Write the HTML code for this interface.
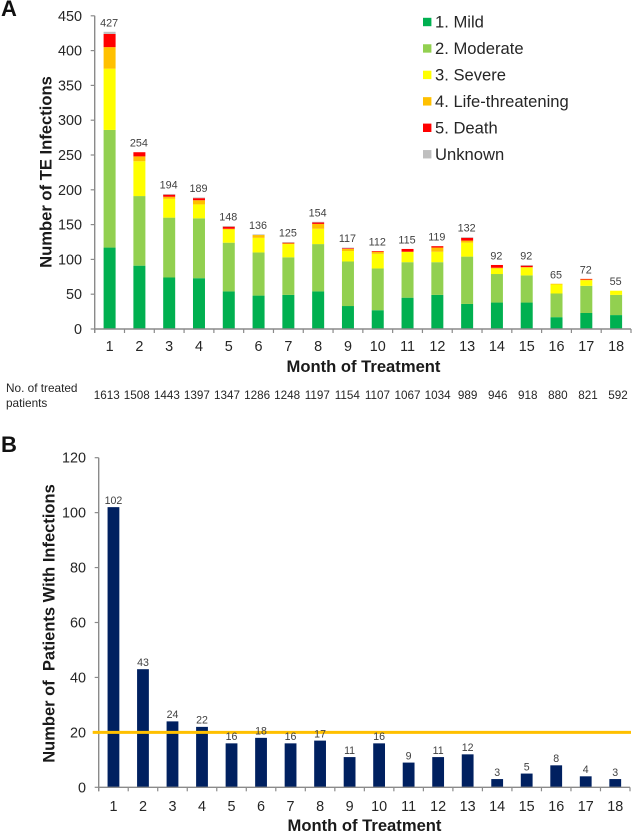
<!DOCTYPE html>
<html>
<head>
<meta charset="utf-8">
<title>TE Infections by Month of Treatment</title>
<style>
html,body{margin:0;padding:0;background:#fff;width:633px;height:833px;overflow:hidden}
svg{display:block;font-family:"Liberation Sans",sans-serif}
</style>
</head>
<body>
<svg id="fig" width="633" height="833" viewBox="0 0 633 833" xmlns="http://www.w3.org/2000/svg">
  <text x="1" y="16" font-size="22" font-weight="bold" fill="#111">A</text>
  <text x="1" y="452" font-size="22" font-weight="bold" fill="#111">B</text>
  <text transform="translate(51.5,172) rotate(-90)" text-anchor="middle" font-size="16.6" font-weight="bold" fill="#1a1a1a">Number of TE Infections</text>
  <text x="363.5" y="372" text-anchor="middle" font-size="16.6" font-weight="bold" fill="#1a1a1a">Month of Treatment</text>
  <text x="6" y="392" font-size="11.8" fill="#262626">No. of treated</text>
  <text x="6" y="407" font-size="11.8" fill="#262626">patients</text>
  <text transform="translate(54.5,623.5) rotate(-90)" text-anchor="middle" font-size="16.5" font-weight="bold" fill="#1a1a1a" xml:space="preserve">Number of  Patients With Infections</text>
  <text x="364.5" y="831" text-anchor="middle" font-size="16.6" font-weight="bold" fill="#1a1a1a">Month of Treatment</text>
  <g id="chartA"></g>
  <g id="legend"></g>
  <g id="counts"></g>
  <g id="chartB"></g>
</svg>
<script>
const months = [1,2,3,4,5,6,7,8,9,10,11,12,13,14,15,16,17,18];
const mild = [117,91,74,73,54,48,49,54,33,27,45,49,36,38,38,17,23,20];
const moderate = [169,100,86,86,70,62,54,68,64,60,51,47,68,41,39,34,39,29];
const severe = [88,50,27,20,19,21,19,22,15,21,15,15,20,8,11,13,8,6];
const lifeThreatening = [31,7,3,6,1,4,1,7,3,3,0,6,3,1,1,1,1,0];
const death = [19,6,3,3,3,0,1,2,1,1,4,2,4,4,2,0,1,0];
const unknown = [3,0,1,1,1,1,1,1,1,0,0,0,1,0,1,0,0,0];
const totals = [427,254,194,189,148,136,125,154,117,112,115,119,132,92,92,65,72,55];
const treatedPatients = [1613,1508,1443,1397,1347,1286,1248,1197,1154,1107,1067,1034,989,946,918,880,821,592];
const patientsWithInfections = [102,43,24,22,16,18,16,17,11,16,9,11,12,3,5,8,4,3];
const ticksA = [0,50,100,150,200,250,300,350,400,450];
const ticksB = [0,20,40,60,80,100,120];
const thresholdB = [20];
const severityNames = ['1. Mild','2. Moderate','3. Severe','4. Life-threatening','5. Death','Unknown'];
const severityKeys = ['mild','moderate','severe','life-threatening','death','unknown'];

const severitySeries = [mild,moderate,severe,lifeThreatening,death,unknown];
const severityColors = ['#00b050','#92d050','#ffff00','#ffc000','#ff0000','#bfbfbf'];
const NS = 'http://www.w3.org/2000/svg';
const AXIS = '#8a8a8a';

function mk(parent, tag, attrs, text){
  const el = document.createElementNS(NS, tag);
  for (const k in attrs) el.setAttribute(k, attrs[k]);
  if (text !== undefined) el.textContent = text;
  parent.appendChild(el);
  return el;
}

// Panel A scales
const ax0 = 94.7, ax1 = 631, ay0 = 329, ayMax = 15.8, aMax = 450;
const aStep = (ax1 - ax0) / months.length;
const ax = i => ax0 + aStep * (i + 0.5);
const ay = v => ay0 - (ay0 - ayMax) * v / aMax;

const gA = document.getElementById('chartA');
months.forEach((m, i) => {
  let cum = 0;
  severitySeries.forEach((s, k) => {
    const v = s[i];
    if (v <= 0) { return; }
    const r = mk(gA, 'rect', {x: ax(i) - 6, y: ay(cum + v), width: 12, height: ay(cum) - ay(cum + v), fill: severityColors[k]});
    
    
    cum += v;
  });
  const t = mk(gA, 'text', {x: ax(i) - 0.5, y: ay(totals[i]) - 5.5, 'text-anchor': 'middle', 'font-size': 10.8, fill: '#404040'}, totals[i]);
  
  
  const xl = mk(gA, 'text', {x: ax(i), y: 351, 'text-anchor': 'middle', 'font-size': 14.4, fill: '#262626'}, m);
  
  
});
const axisAY = mk(gA, 'line', {x1: ax0, x2: ax0, y1: ay(aMax), y2: ay0 + 4, stroke: AXIS, 'stroke-width': 1.4});


const axisAX = mk(gA, 'line', {x1: ax0, x2: ax1, y1: ay0, y2: ay0, stroke: AXIS, 'stroke-width': 1.4});


for (let i = 0; i <= months.length; i++) {
  const tk = mk(gA, 'line', {x1: ax0 + aStep * i, x2: ax0 + aStep * i, y1: ay0, y2: ay0 + 4, stroke: AXIS, 'stroke-width': 1.2});
  
  
}
ticksA.forEach(v => {
  const tk = mk(gA, 'line', {x1: ax0 - 4, x2: ax0, y1: ay(v), y2: ay(v), stroke: AXIS, 'stroke-width': 1.2});
  
  
  const l = mk(gA, 'text', {x: 82, y: ay(v) + 5, 'text-anchor': 'end', 'font-size': 14.4, fill: '#262626'}, v);
  
  
});

// Legend
const gL = document.getElementById('legend');
severityNames.forEach((n, k) => {
  const cy = 22 + k * 26.45;
  const sw = mk(gL, 'rect', {x: 423, y: cy - 4.2, width: 8.4, height: 8.4, fill: severityColors[k]});
  
  
  const tx = mk(gL, 'text', {x: 435, y: cy + 5.6, 'font-size': 16.6, fill: '#262626'}, n);
  
  
});

// Treated patients row
const gC = document.getElementById('counts');
treatedPatients.forEach((n, i) => {
  const t = mk(gC, 'text', {x: 106.7 + 30.08 * i, y: 399, 'text-anchor': 'middle', 'font-size': 11.7, fill: '#262626'}, n);
  
  
});

// Panel B scales
const bx0 = 98.7, bx1 = 630, by0 = 787.3, byMax = 457.7, bMax = 120;
const bStep = (bx1 - bx0) / months.length;
const bx = i => bx0 + bStep * (i + 0.5);
const by = v => by0 - (by0 - byMax) * v / bMax;

const gB = document.getElementById('chartB');
months.forEach((m, i) => {
  const v = patientsWithInfections[i];
  const r = mk(gB, 'rect', {x: bx(i) - 5.9, y: by(v), width: 11.8, height: by0 - by(v), fill: '#002060'});
  
  
  const xl = mk(gB, 'text', {x: bx(i), y: 811, 'text-anchor': 'middle', 'font-size': 14.4, fill: '#262626'}, m);
  
  
});
const axisBY = mk(gB, 'line', {x1: bx0, x2: bx0, y1: by(bMax), y2: by0 + 4, stroke: AXIS, 'stroke-width': 1.4});


const axisBX = mk(gB, 'line', {x1: bx0, x2: bx1, y1: by0, y2: by0, stroke: AXIS, 'stroke-width': 1.4});


for (let i = 0; i <= months.length; i++) {
  const tk = mk(gB, 'line', {x1: bx0 + bStep * i, x2: bx0 + bStep * i, y1: by0, y2: by0 + 4, stroke: AXIS, 'stroke-width': 1.2});
  
  
}
ticksB.forEach(v => {
  const tk = mk(gB, 'line', {x1: bx0 - 4, x2: bx0, y1: by(v), y2: by(v), stroke: AXIS, 'stroke-width': 1.2});
  
  
  const l = mk(gB, 'text', {x: 86, y: by(v) + 5, 'text-anchor': 'end', 'font-size': 14.4, fill: '#262626'}, v);
  
  
});
const refLine = mk(gB, 'line', {x1: 92.7, x2: 631, y1: by(thresholdB[0]), y2: by(thresholdB[0]), stroke: '#ffc000', 'stroke-width': 3});


months.forEach((m, i) => {
  const v = patientsWithInfections[i];
  const t = mk(gB, 'text', {x: bx(i), y: by(v) - 3.2, 'text-anchor': 'middle', 'font-size': 10.6, fill: '#404040'}, v);
  
  
});
</script>
</body>
</html>
